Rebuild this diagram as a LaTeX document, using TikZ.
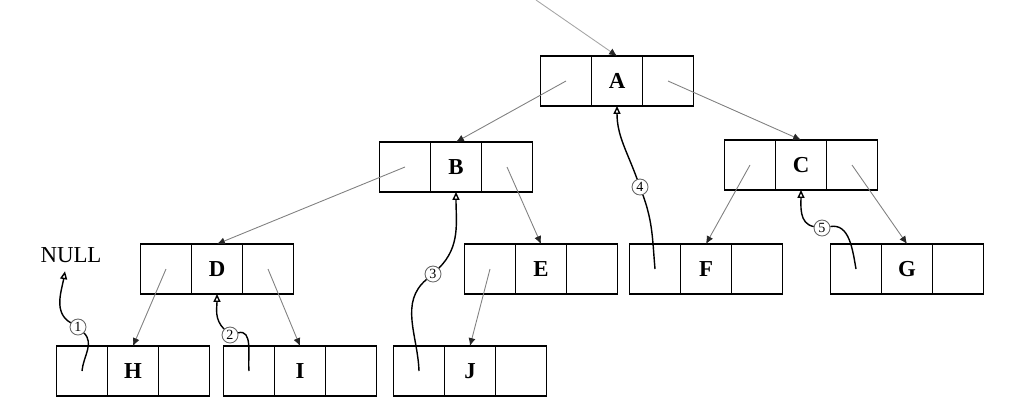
\documentclass[tikz,border=0pt]{standalone}
\usepackage{fontspec}
\setmainfont{Liberation Serif}
\usetikzlibrary{positioning, arrows.meta}

\begin{document}
\begin{tikzpicture}[
        cell/.style={draw, line width=0.7pt, minimum width=1.02cm, minimum height=1cm, inner sep=0pt, outer sep=0pt, font=\fontsize{13}{15}\selectfont\bfseries},
        child/.style={draw=black!50, line width=0.5pt, -{Latex[length=4.5pt, width=4pt, color=black!85]}},
        thread/.style={line width=0.8pt, -{Triangle[open, length=4.5pt, width=4pt]}},
        num/.style={circle, draw=black!60, line width=0.5pt, inner sep=0pt, minimum size=0.32cm, font=\fontsize{8}{9}\selectfont}
    ]
            \useasboundingbox (0,0) rectangle (20.26,8.36);

            \node[cell] (A) at (12.34, 6.74) {A};
            \node[cell, left=0pt of A] (A-l) {};
            \node[cell, right=0pt of A] (A-r) {};

            \node[cell] (B) at (9.12, 5.02) {B};
            \node[cell, left=0pt of B] (B-l) {};
            \node[cell, right=0pt of B] (B-r) {};

            \node[cell] (C) at (16.02, 5.06) {C};
            \node[cell, left=0pt of C] (C-l) {};
            \node[cell, right=0pt of C] (C-r) {};

            \node[cell] (D) at (4.34, 2.98) {D};
            \node[cell, left=0pt of D] (D-l) {};
            \node[cell, right=0pt of D] (D-r) {};

            \node[cell] (E) at (10.82, 2.98) {E};
            \node[cell, left=0pt of E] (E-l) {};
            \node[cell, right=0pt of E] (E-r) {};

            \node[cell] (F) at (14.12, 2.98) {F};
            \node[cell, left=0pt of F] (F-l) {};
            \node[cell, right=0pt of F] (F-r) {};

            \node[cell] (G) at (18.14, 2.98) {G};
            \node[cell, left=0pt of G] (G-l) {};
            \node[cell, right=0pt of G] (G-r) {};

            \node[cell] (H) at (2.66, 0.94) {H};
            \node[cell, left=0pt of H] (H-l) {};
            \node[cell, right=0pt of H] (H-r) {};

            \node[cell] (I) at (6.00, 0.94) {I};
            \node[cell, left=0pt of I] (I-l) {};
            \node[cell, right=0pt of I] (I-r) {};

            \node[cell] (J) at (9.40, 0.94) {J};
            \node[cell, left=0pt of J] (J-l) {};
            \node[cell, right=0pt of J] (J-r) {};

            \node[font=\fontsize{13}{15}\selectfont] (NULL) at (1.42, 3.26) {NULL};

            \coordinate (top) at (10.72, 8.36);
            \draw[child, draw=black!35] (top) -- (A.north);

            \draw[child] (A-l.center) -- (B.north);
            \draw[child] (A-r.center) -- (C.north);
            \draw[child] (B-l.center) -- (D.north);
            \draw[child] (B-r.center) -- (E.north);
            \draw[child] (C-l.center) -- (F.north);
            \draw[child] (C-r.center) -- (G.north);
            \draw[child] (D-l.center) -- (H.north);
            \draw[child] (D-r.center) -- (I.north);
            \draw[child] (E-l.center) -- (J.north);

            \node[num] (n1) at (1.56, 1.82) {1};
            \node[num] (n2) at (4.60, 1.66) {2};
            \node[num] (n3) at (8.66, 2.88) {3};
            \node[num] (n4) at (12.80, 4.62) {4};
            \node[num] (n5) at (16.44, 3.80) {5};

            \draw[thread] (H-l.center) to[out=85, in=-45] (n1) to[out=150, in=-100] ([xshift=-0.12cm, yshift=-0.05cm]NULL.south);
            \draw[thread] (I-l.center) to[out=95, in=15] (n2) to[out=135, in=-90] (D.south);
            \draw[thread] (J-l.center) to[out=92, in=-140] (n3) to[out=45, in=-90] (B.south);
            \draw[thread] (F-l.center) to[out=95, in=-70] (n4) to[out=110, in=-90] (A.south);
            \draw[thread] (G-l.center) to[out=100, in=10] (n5) to[out=170, in=-90] (C.south);

\end{tikzpicture}
\end{document}
